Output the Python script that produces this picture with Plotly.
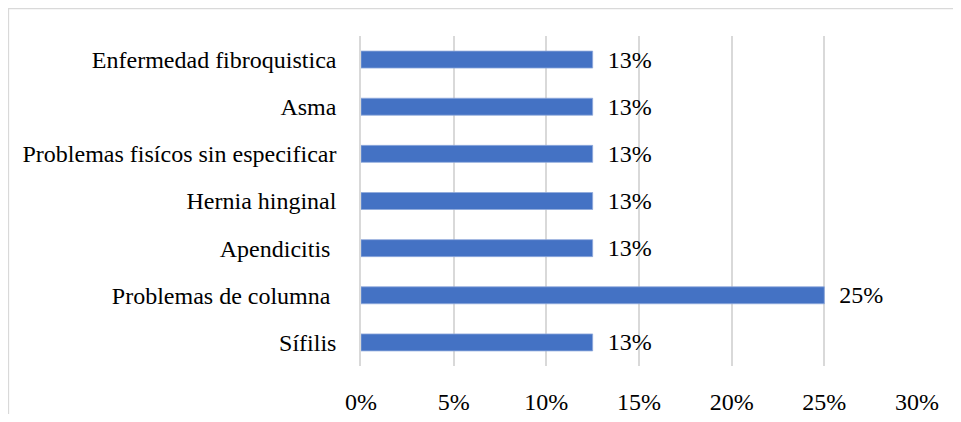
import plotly.graph_objects as go

categories = [
    "Enfermedad fibroquistica",
    "Asma",
    "Problemas fisícos sin especificar",
    "Hernia hinginal",
    "Apendicitis\u00a0",
    "Problemas de columna\u00a0",
    "Sífilis",
]
values = [0.125, 0.125, 0.125, 0.125, 0.125, 0.25, 0.125]
value_labels = ["13%", "13%", "13%", "13%", "13%", "25%", "13%"]
x_tick_vals = [0, 0.05, 0.10, 0.15, 0.20, 0.25, 0.30]
x_tick_text = ["0%", "5%", "10%", "15%", "20%", "25%", "30%"]

FONT = "Liberation Serif, Tinos, Times New Roman, Times, serif"
FS = 24

W, H = 953, 406
L, T = 353, 28
PW, PH = 556, 330

fig = go.Figure()
fig.add_trace(go.Bar(
    y=categories,
    x=values,
    orientation="h",
    marker=dict(color="#4472C4", line=dict(width=0.8, color="#8FAADC")),
    text=["\u00a0\u00a0" + t for t in value_labels],
    textposition="outside",
    constraintext="none",
    textfont=dict(family=FONT, size=FS, color="#000000"),
    cliponaxis=False,
    hoverinfo="skip",
))

fig.update_layout(
    width=W,
    height=H,
    margin=dict(l=L, r=W - L - PW, t=T, b=H - T - PH, autoexpand=False),
    paper_bgcolor="white",
    plot_bgcolor="white",
    showlegend=False,
    bargap=0.64,
    font=dict(family=FONT, size=FS, color="#000000"),
    xaxis=dict(
        range=[0, 0.30],
        tickvals=x_tick_vals,
        ticktext=x_tick_text,
        showgrid=True,
        gridcolor="#D9D9D9",
        gridwidth=1.5,
        zeroline=False,
        showline=False,
        ticks="outside",
        ticklen=14,
        tickcolor="rgba(0,0,0,0)",
        tickfont=dict(family=FONT, size=FS, color="#000000"),
        automargin=False,
        fixedrange=True,
    ),
    yaxis=dict(
        autorange="reversed",
        showgrid=False,
        showline=True,
        linecolor="#D9D9D9",
        linewidth=1.5,
        zeroline=False,
        ticks="outside",
        ticklen=18,
        tickcolor="rgba(0,0,0,0)",
        tickfont=dict(family=FONT, size=FS, color="#000000"),
        automargin=False,
        fixedrange=True,
    ),
    shapes=[
        dict(
            type="rect",
            xref="paper", yref="paper",
            x0=(0.5 - L) / PW, x1=1.3,
            y0=-0.5, y1=(T + PH - 0.5) / PH,
            line=dict(color="#D9D9D9", width=1.3),
            fillcolor="rgba(0,0,0,0)",
            layer="below",
        )
    ],
)

fig.write_html("out.html")
